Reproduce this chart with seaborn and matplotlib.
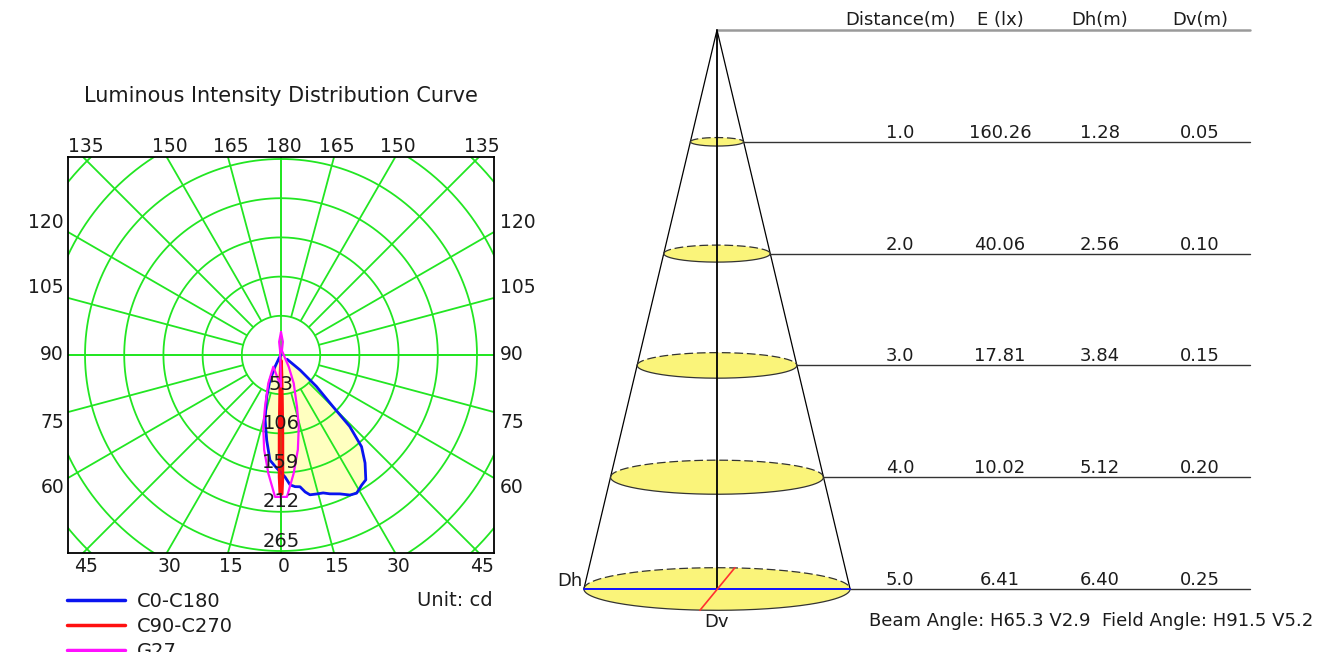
import numpy as np
import matplotlib
matplotlib.use("Agg")
import matplotlib.pyplot as plt
from matplotlib.lines import Line2D
import seaborn as sns

sns.set_style("white")
plt.rcParams["font.family"] = ["DejaVu Sans"]

TEXT = "#1c1c1c"
GRID = "#22e622"
FS_TICK = 13.5
FS_RING = 14
FS_LEFT = 14
FS_TITLE = 15
FS_TABLE = 13

# photometric data: gamma angle (deg, negative = C180 / C270 side) and intensity (cd)
c0_angle = [-90, -40, -32, -27, -23.7, -18.9, -13.8, -9.5, -6, -2.2, 1.9, 4, 6.1, 8.2,
            10, 11.7, 14.4, 17, 19.4, 23, 26.2, 28.7, 31.8, 34.2, 37.9, 41.3, 43.9,
            45.2, 48.4, 51.7, 55, 60, 90]
c0_cd = [0, 0, 5, 18, 37, 60, 90, 117, 143, 153, 165, 176, 179, 180,
         188, 193, 194, 195, 199, 204, 211, 213, 207, 204, 185, 165, 134,
         99, 64, 33, 10, 0, 0]

c90_angle = [-90, -4, -3, -2.2, -1.6, -1.2, -0.8, -0.4, 0, 0.4, 0.8, 1.2, 1.6, 2.2, 3, 4, 90]
c90_cd = [0, 0, 8, 25, 60, 110, 165, 188, 192, 188, 165, 110, 60, 25, 8, 0, 0]

g27_angle = [-180, -172, -168, -165, -40, -33.3, -24.2, -17.2, -13.9, -10.1, -6.1, -2.4, 0,
             2.4, 6.1, 10.1, 13.9, 17.2, 24.2, 33.3, 40, 165, 168, 172, 180]
g27_cd = [31, 18, 6, 0, 0, 19, 42, 73, 100, 130, 161, 192, 214,
          192, 161, 130, 100, 73, 42, 19, 0, 0, 6, 18, 31]

ring_step = 53
ring_labels = [53, 106, 159, 212, 265]
top_angles = [-135, -150, -165, 180, 165, 150, 135]
bottom_angles = [-45, -30, -15, 0, 15, 30, 45]
side_angles = [120, 105, 90, 75, 60]

# cone table
distance = [1.0, 2.0, 3.0, 4.0, 5.0]
illum = ["160.26", "40.06", "17.81", "10.02", "6.41"]
dh = [1.28, 2.56, 3.84, 5.12, 6.40]
dv = [0.05, 0.10, 0.15, 0.20, 0.25]
headers = ["Distance(m)", "E (lx)", "Dh(m)", "Dv(m)"]
beam_text = "Beam Angle: H65.3 V2.9  Field Angle: H91.5 V5.2"


def to_xy(angle, cd):
    t = np.radians(np.asarray(angle, dtype=float))
    cd = np.asarray(cd, dtype=float)
    return cd * np.sin(t), -cd * np.cos(t)


PT = 72 / 100  # points per pixel

fig = plt.figure(figsize=(13.27, 6.52), dpi=100)

# ---------------- polar intensity curve ----------------
XMAX, YMAX = 288.0, 267.7
ax = fig.add_axes([68 / 1327, 99 / 652, 426 / 1327, 396 / 652])
ax.set_xlim(-XMAX, XMAX)
ax.set_ylim(-YMAX, YMAX)
ax.set_xticks([])
ax.set_yticks([])
for s in ax.spines.values():
    s.set_color("black")
    s.set_linewidth(1.3)

x0, y0 = to_xy(c0_angle, c0_cd)
ax.fill(x0, y0, color="#ffffc0", zorder=1, lw=0)

tt = np.linspace(0, 2 * np.pi, 400)
for k in range(1, 9):
    r = ring_step * k
    ax.plot(r * np.cos(tt), r * np.sin(tt), color=GRID, lw=1.3, zorder=2)
for a in range(0, 360, 15):
    gx, gy = to_xy([a, a], [ring_step, 900])
    ax.plot(gx, gy, color=GRID, lw=1.3, zorder=2)
ax.axhline(0, color=GRID, lw=1.3, zorder=2)
ax.axvline(0, color=GRID, lw=1.3, zorder=2)

sns.lineplot(x=x0, y=y0, sort=False, color="#0a14f0", lw=2.0, ax=ax, zorder=3)
x1, y1 = to_xy(c90_angle, c90_cd)
sns.lineplot(x=x1, y=y1, sort=False, color="#ff1010", lw=2.2, ax=ax, zorder=4)
x2, y2 = to_xy(g27_angle, g27_cd)
sns.lineplot(x=x2, y=y2, sort=False, color="#ff10ff", lw=1.6, ax=ax, zorder=5)

for v in ring_labels:
    ax.annotate(str(v), (0, -v), xytext=(0, 10 * PT), textcoords="offset points",
                ha="center", va="center", fontsize=FS_RING, color=TEXT, zorder=6)

for a in top_angles:
    t = np.radians(a)
    xx = YMAX * np.sin(t) / -np.cos(t)
    ax.annotate(str(abs(a)), (xx, YMAX), xytext=(3 * PT, 10 * PT), textcoords="offset points",
                ha="center", va="center", fontsize=FS_TICK, color=TEXT, annotation_clip=False)
for a in bottom_angles:
    t = np.radians(a)
    xx = YMAX * np.tan(t)
    ax.annotate(str(abs(a)), (xx, -YMAX), xytext=(3 * PT, -13 * PT), textcoords="offset points",
                ha="center", va="center", fontsize=FS_TICK, color=TEXT, annotation_clip=False)
for a in side_angles:
    t = np.radians(a)
    yy = round(-XMAX / np.sin(t) * np.cos(t), 6)
    dy = np.sign(yy) * 10 * PT
    ax.annotate(str(a), (-XMAX, yy), xytext=(-4 * PT, dy), textcoords="offset points",
                ha="right", va="center", fontsize=FS_TICK, color=TEXT, annotation_clip=False)
    ax.annotate(str(a), (XMAX, yy), xytext=(6 * PT, dy), textcoords="offset points",
                ha="left", va="center", fontsize=FS_TICK, color=TEXT, annotation_clip=False)

fig.text(281 / 1327, 1 - 96 / 652, "Luminous Intensity Distribution Curve",
         ha="center", va="center", fontsize=FS_TITLE, color=TEXT)
fig.text(493 / 1327, 1 - 601 / 652, "Unit: cd", ha="right", va="center",
         fontsize=FS_LEFT, color=TEXT)

handles = [Line2D([], [], color="#0a14f0", lw=2.5),
           Line2D([], [], color="#ff1010", lw=2.5),
           Line2D([], [], color="#ff10ff", lw=2.5)]
fig.legend(handles, ["C0-C180", "C90-C270", "G27"], loc="upper left",
           bbox_to_anchor=(67 / 1327, 1 - 592 / 652), frameon=False, fontsize=FS_LEFT,
           handlelength=3.0, handletextpad=0.6, labelspacing=0.3,
           borderpad=0, borderaxespad=0, labelcolor=TEXT)

# ---------------- cone diagram ----------------
PX_X, PX_Y = 41.6, 111.8
cx = fig.add_axes([550 / 1327, 0, 777 / 1327, 1])
cx.set_xlim(-167 / PX_X, 610 / PX_X)
cx.set_ylim(622 / PX_Y, -30 / PX_Y)
cx.axis("off")

line_end = 533 / PX_X
col_x = [183 / PX_X, 283 / PX_X, 383 / PX_X, 483 / PX_X]

far = len(distance) - 1
cx.plot([0, -dh[far] / 2], [0, distance[far]], color="black", lw=0.9, zorder=2)
cx.plot([0, dh[far] / 2], [0, distance[far]], color="black", lw=0.9, zorder=2)
cx.plot([0, line_end], [0, 0], color="#9a9a9a", lw=1.8)

for d, e, h, v in zip(distance, illum, dh, dv):
    hw = h / 2
    hh = 0.16 * hw * PX_X / PX_Y
    ex = hw * np.cos(tt)
    ey = d + hh * np.sin(tt)
    cx.fill(ex, ey, color="#faf47a", lw=0, zorder=1)
    front = np.sin(tt) >= 0
    cx.plot(ex[front], ey[front], color="#333333", lw=0.9, zorder=2)
    back = np.linspace(np.pi, 2 * np.pi, 200)
    cx.plot(hw * np.cos(back), d + hh * np.sin(back), color="#333333", lw=0.9,
            ls=(0, (7, 3)), zorder=2)
    cx.plot([hw, line_end], [d, d], color="#333333", lw=1.0)
    for xc, s in zip(col_x, [f"{d:.1f}", e, f"{h:.2f}", f"{v:.2f}"]):
        cx.annotate(s, (xc, d), xytext=(0, 4 * PT), textcoords="offset points",
                    ha="center", va="baseline", fontsize=FS_TABLE, color=TEXT)

for xc, s in zip(col_x, headers):
    cx.annotate(s, (xc, 0), xytext=(0, 5 * PT), textcoords="offset points",
                ha="center", va="baseline", fontsize=FS_TABLE, color=TEXT)

cx.plot([0, 0], [0, distance[far]], color="black", lw=1.3, zorder=3)
hw = dh[far] / 2
hh = 0.16 * hw * PX_X / PX_Y
cx.plot([-hw, hw], [distance[far], distance[far]], color="#1010ff", lw=1.4, zorder=4)
cx.plot([-0.41, 0.43], [distance[far] + hh, distance[far] - hh], color="#ff3030", lw=1.2, zorder=4)

cx.annotate("Dh", (-hw, distance[far]), xytext=(-1 * PT, 3 * PT), textcoords="offset points",
            ha="right", va="baseline", fontsize=FS_TABLE, color=TEXT)
cx.annotate("Dv", (0, distance[far] + hh), xytext=(0, -3 * PT), textcoords="offset points",
            ha="center", va="top", fontsize=FS_TABLE, color=TEXT)
fig.text(1313 / 1327, 1 - 621 / 652, beam_text, ha="right", va="center",
         fontsize=FS_TABLE, color=TEXT)

fig.savefig("out.png", dpi=100)
